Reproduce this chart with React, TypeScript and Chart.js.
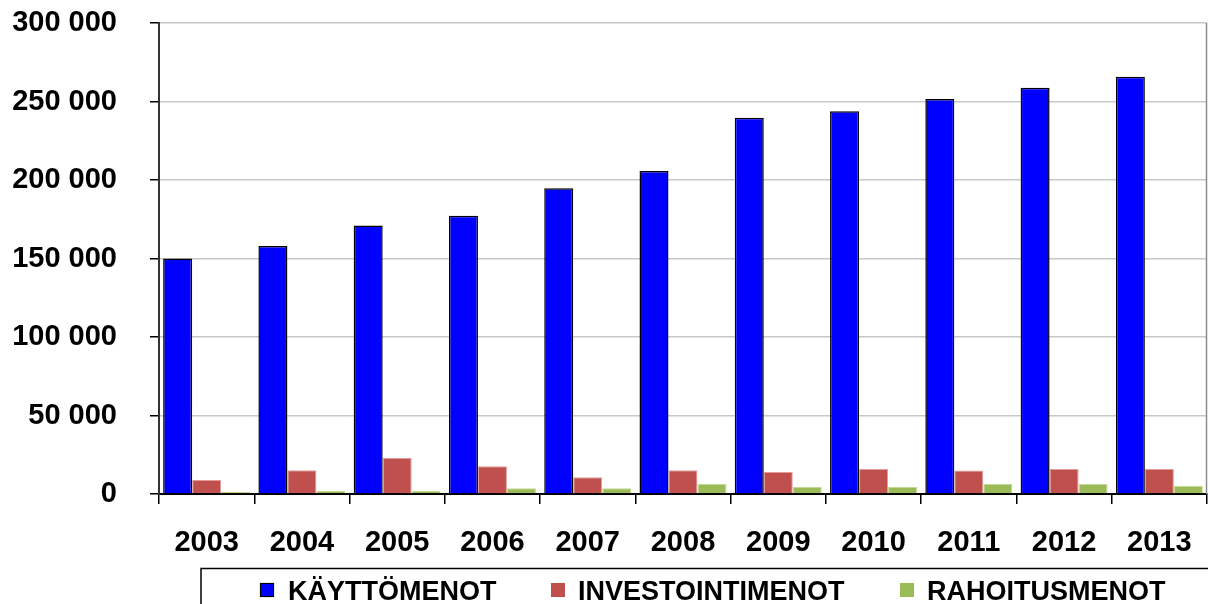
import React, { useEffect, useRef } from "react";
import { Chart, registerables } from "chart.js";

Chart.register(...registerables);

const years = ["2003", "2004", "2005", "2006", "2007", "2008", "2009", "2010", "2011", "2012", "2013"];
const kayttomenot = [150000, 157900, 171000, 177200, 194800, 205800, 239600, 243800, 251600, 258700, 265800];
const investointimenot = [8900, 15100, 22900, 17600, 10600, 15100, 14000, 15900, 14900, 15900, 15900];
const rahoitusmenot = [1300, 1900, 1900, 3600, 3600, 6400, 4500, 4500, 6400, 6400, 5300];
const seriesNames = ["KÄYTTÖMENOT", "INVESTOINTIMENOT", "RAHOITUSMENOT"];
const seriesColors = ["#0000FF", "#C0504D", "#9BBB59"];
const seriesBorders = ["#000000", "#E39C9A", "#C3DA92"];

const FONT = "'Liberation Sans', Arial, sans-serif";

const fmt = (v: number) => {
  if (v === 0) return "0";
  const s = String(Math.round(v));
  return s.replace(/\B(?=(\d{3})+(?!\d))/g, " ");
};

const framePlugin = {
  id: "frame",
  afterDraw(chart: any) {
    const { ctx, chartArea } = chart;
    ctx.save();
    ctx.strokeStyle = "#8c8c8c";
    ctx.lineWidth = 1.5;
    ctx.beginPath();
    ctx.moveTo(chartArea.right - 0.5, chartArea.top);
    ctx.lineTo(chartArea.right - 0.5, chartArea.bottom);
    ctx.stroke();

    ctx.strokeStyle = "#000";
    ctx.lineWidth = 1.5;
    ctx.strokeRect(201, 568.5, 1100, 60);

    const items = [
      { x: 260, tx: 288 },
      { x: 551, tx: 578 },
      { x: 900, tx: 927 },
    ];
    ctx.font = `bold 27px ${FONT}`;
    ctx.textBaseline = "alphabetic";
    ctx.textAlign = "left";
    items.forEach((it, i) => {
      ctx.fillStyle = seriesColors[i];
      ctx.fillRect(it.x, 583, 14, 14);
      if (i === 0) {
        ctx.strokeStyle = "#000";
        ctx.lineWidth = 1.2;
        ctx.strokeRect(it.x + 0.5, 583.5, 13, 13);
      }
      ctx.fillStyle = "#000";
      ctx.fillText(seriesNames[i], it.tx, 600);
    });
    ctx.restore();
  },
};

export default function App() {
  const ref = useRef<HTMLCanvasElement | null>(null);

  useEffect(() => {
    document.body.style.margin = "0";
    const canvas = ref.current;
    if (!canvas) return;
    const data = [kayttomenot, investointimenot, rahoitusmenot];
    const chart = new Chart(canvas, {
      type: "bar",
      data: {
        labels: years,
        datasets: data.map((d, i) => ({
          label: seriesNames[i],
          data: d,
          backgroundColor: seriesColors[i],
          borderColor: seriesBorders[i],
          borderWidth: i === 0 ? 1.5 : 1,
          categoryPercentage: 0.913,
          barPercentage: 1,
        })),
      },
      options: {
        animation: false,
        responsive: false,
        devicePixelRatio: 1,
        layout: { padding: { top: 23, right: 1, left: 0, bottom: 0 } },
        plugins: {
          legend: { display: false },
          tooltip: { enabled: false },
        },
        scales: {
          x: {
            grid: {
              offset: true,
              drawOnChartArea: false,
              drawTicks: true,
              tickLength: 10,
              color: "#000",
              lineWidth: 1.5,
            },
            border: { color: "#000", width: 2 },
            ticks: {
              color: "#000",
              font: { family: FONT, size: 29, weight: "bold" },
              padding: 22,
              maxRotation: 0,
              autoSkip: false,
            },
            afterFit(scale: any) {
              scale.height = 110;
              scale.paddingLeft = 0;
              scale.paddingRight = 0;
            },
          },
          y: {
            min: 0,
            max: 300000,
            grid: {
              color: "#c8c8c8",
              lineWidth: 1.5,
              tickLength: 9,
              tickColor: "#000",
            },
            border: { color: "#333", width: 2 },
            ticks: {
              stepSize: 50000,
              color: "#000",
              font: { family: FONT, size: 29, weight: "bold" },
              padding: 33,
              callback: (v: any) => fmt(Number(v)),
            },
            afterFit(scale: any) {
              scale.width = 159;
              scale.paddingTop = 0;
              scale.paddingBottom = 0;
            },
          },
        },
      },
      plugins: [framePlugin],
    });
    return () => chart.destroy();
  }, []);

  return (
    <div style={{ width: 1208, height: 604, background: "#fff" }}>
      <canvas ref={ref} width={1208} height={604} style={{ display: "block", width: 1208, height: 604 }} />
    </div>
  );
}
